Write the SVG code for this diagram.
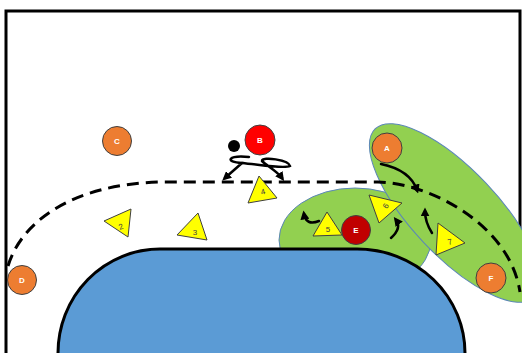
<svg xmlns="http://www.w3.org/2000/svg" width="522" height="353" viewBox="0 0 522 353">
<style>
.frame{fill:none;stroke:#000;stroke-width:3}
.zone{fill:#92D050;stroke:#5B86B8;stroke-width:1}
.court{fill:#5B9BD5;stroke:#000;stroke-width:3}
.pl{stroke:#404040;stroke-width:1}
.att{fill:#ED7D31}
.lbl{font-family:"Liberation Sans",Arial,sans-serif;font-size:8px;font-weight:bold;fill:#fff;text-anchor:middle;dominant-baseline:central}
.tri{fill:#FFFF00;stroke:#404040;stroke-width:1}
.tl{font-family:"Liberation Sans",Arial,sans-serif;font-size:8px;fill:#404040;text-anchor:middle;dominant-baseline:central}
.mv{fill:none;stroke:#000;stroke-width:2.5;stroke-linecap:round;marker-end:url(#ah)}
.pass{fill:none;stroke:#000;stroke-width:3;stroke-dasharray:12 7}
</style>
<defs>
<marker id="ah" viewBox="0 0 10 10" refX="6" refY="5" markerWidth="9" markerHeight="9" markerUnits="userSpaceOnUse" orient="auto"><path d="M0,0 L10,5 L0,10 z" fill="#000"/></marker>
</defs>
<rect width="522" height="353" fill="#fff"/>
<path class="frame" d="M6,353 V11 H520 V300"/>
<g id="zone-small"><ellipse class="zone" cx="355" cy="240" rx="76" ry="52"/></g>
<g id="zone-big"><ellipse class="zone" cx="455" cy="213" rx="116" ry="43" transform="rotate(46.6 455 213)"/></g>
<g id="court"><path class="court" d="M58,360 V353 A102,104 0 0 1 160,249 H357 A108,104 0 0 1 465,353 V360"/></g>
<g id="connectors">
<path class="pass" d="M8,266 C22,220 75,184 160,182 H378 C430,183 510,225 520,292"/>
<path class="mv" d="M249,157 C228,155 224,162 242,163 L225,178"/>
<path class="mv" d="M242,163 C262,165 284,169 290,166 C289,160 262,156 262,161 C267,166 277,171 282,178"/>
<path class="mv" d="M381,164 Q410,170 417,190"/>
<path class="mv" d="M432,233 Q425,222 425,211"/>
<path class="mv" d="M391,238 Q402,228 396,220"/>
<path class="mv" d="M319,221 Q306,226 304,214"/>
</g>
<g id="ball"><circle cx="234" cy="146" r="6" fill="#000"/></g>
<g id="C"><circle class="att pl" cx="117" cy="141" r="14.5"/><text class="lbl" x="117" y="141">C</text></g>
<g id="D"><circle class="att pl" cx="22" cy="280" r="14.5"/><text class="lbl" x="22" y="280">D</text></g>
<g id="A"><circle class="att pl" cx="387" cy="148" r="15"/><text class="lbl" x="387" y="148">A</text></g>
<g id="F"><circle class="att pl" cx="491" cy="278" r="15"/><text class="lbl" x="491" y="278">F</text></g>
<g id="B"><circle class="pl" fill="#FF0000" cx="260" cy="140" r="15"/><text class="lbl" x="260" y="140">B</text></g>
<g id="E"><circle class="pl" fill="#C00000" cx="356" cy="230" r="14.5"/><text class="lbl" x="356" y="230">E</text></g>
<g id="d2"><polygon class="tri" points="104,221 131,209 128,237"/><text class="tl" x="121" y="227" transform="rotate(-20 121 227)">2</text></g>
<g id="d3"><polygon class="tri" points="177,235 198,213 207,240"/><text class="tl" x="195" y="232">3</text></g>
<g id="d4"><polygon class="tri" points="248,203 259,176 277,198"/><text class="tl" x="263" y="192" transform="rotate(-15 263 192)">4</text></g>
<g id="d5"><polygon class="tri" points="313,236 327,212 342,235"/><text class="tl" x="328" y="229">5</text></g>
<g id="d6"><polygon class="tri" points="369,195 402,203 379,223"/><text class="tl" x="386" y="206" transform="rotate(-60 386 206)">6</text></g>
<g id="d7"><polygon class="tri" points="438,223 465,243 436,255"/><text class="tl" x="450" y="242" transform="rotate(-15 450 242)">7</text></g>
</svg>
